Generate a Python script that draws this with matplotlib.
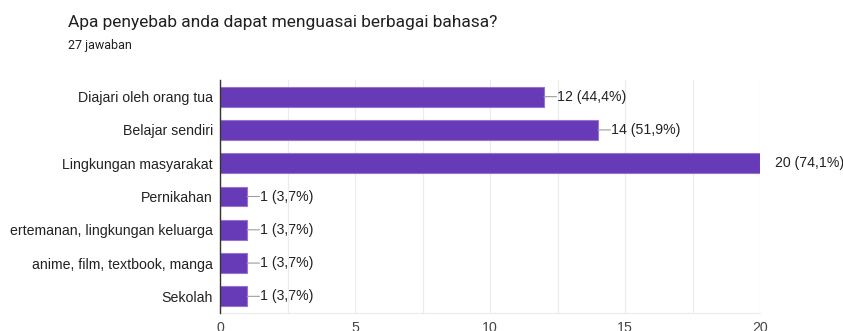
import matplotlib
matplotlib.use("Agg")
import matplotlib.pyplot as plt
import numpy as np

plt.rcParams['font.family'] = ['Liberation Sans', 'DejaVu Sans']

categories = [
    "Diajari oleh orang tua",
    "Belajar sendiri",
    "Lingkungan masyarakat",
    "Pernikahan",
    "ertemanan, lingkungan keluarga",
    "anime, film, textbook, manga",
    "Sekolah",
]
counts = [12, 14, 20, 1, 1, 1, 1]
percent_labels = ["44,4%", "51,9%", "74,1%", "3,7%", "3,7%", "3,7%", "3,7%"]
xticks = [0, 5, 10, 15, 20]

W, H = 843, 331
fig = plt.figure(figsize=(W / 100, H / 100), dpi=100)
ax = fig.add_axes([220 / W, 1 - 313 / H, 540 / W, (313 - 80) / H])

y = np.arange(len(categories))
ax.barh(y, counts, height=0.6, color="#673AB7", edgecolor="#9575CD",
        linewidth=0.8, zorder=3)

ax.set_xlim(0, 20)
ax.set_ylim(len(categories) - 0.5, -0.5)
ax.set_yticks(y)
ax.set_yticklabels(categories, fontsize=10.2, color="#222222")
ax.set_xticks(xticks)
ax.set_xticklabels([str(t) for t in xticks], fontsize=10.2, color="#444444")
ax.set_xticks(np.arange(0, 20.01, 2.5), minor=True)
ax.tick_params(axis="both", which="both", length=0, pad=5)
ax.tick_params(axis="x", pad=6)
ax.grid(axis="x", which="both", color="#ebebeb", linewidth=0.8, zorder=0)

for s in ["top", "right"]:
    ax.spines[s].set_visible(False)
ax.spines["bottom"].set_color("#ebebeb")
ax.spines["left"].set_color("#333333")
ax.spines["left"].set_linewidth(1.0)
ax.spines["left"].set_zorder(4)

xmax = max(counts)
lead = 9  # connector length in points
for yi, c, p in zip(y, counts, percent_labels):
    text = f"{c} ({p})"
    if c >= xmax:
        ax.annotate(text, xy=(c, yi), xytext=(11, 0), textcoords="offset points",
                    va="center", ha="left", fontsize=10.2, color="#222222",
                    annotation_clip=False)
    else:
        ax.annotate("", xy=(c, yi), xytext=(lead, 0), textcoords="offset points",
                    arrowprops=dict(arrowstyle="-", color="#9e9e9e", lw=0.8,
                                    shrinkA=0, shrinkB=0))
        ax.annotate(text, xy=(c, yi), xytext=(lead + 0.5, 0),
                    textcoords="offset points", va="center", ha="left",
                    fontsize=10.2, color="#222222")

fig.text(68 / W, 1 - 22 / H, "Apa penyebab anda dapat menguasai berbagai bahasa?",
         fontsize=12.5, color="#202124", va="center", ha="left",
         family=['Roboto', 'DejaVu Sans'])
fig.text(68 / W, 1 - 46 / H, "27 jawaban", fontsize=9, color="#202124",
         va="center", ha="left", family=['Roboto', 'DejaVu Sans'])

fig.savefig("out.png", dpi=100, facecolor="white")
